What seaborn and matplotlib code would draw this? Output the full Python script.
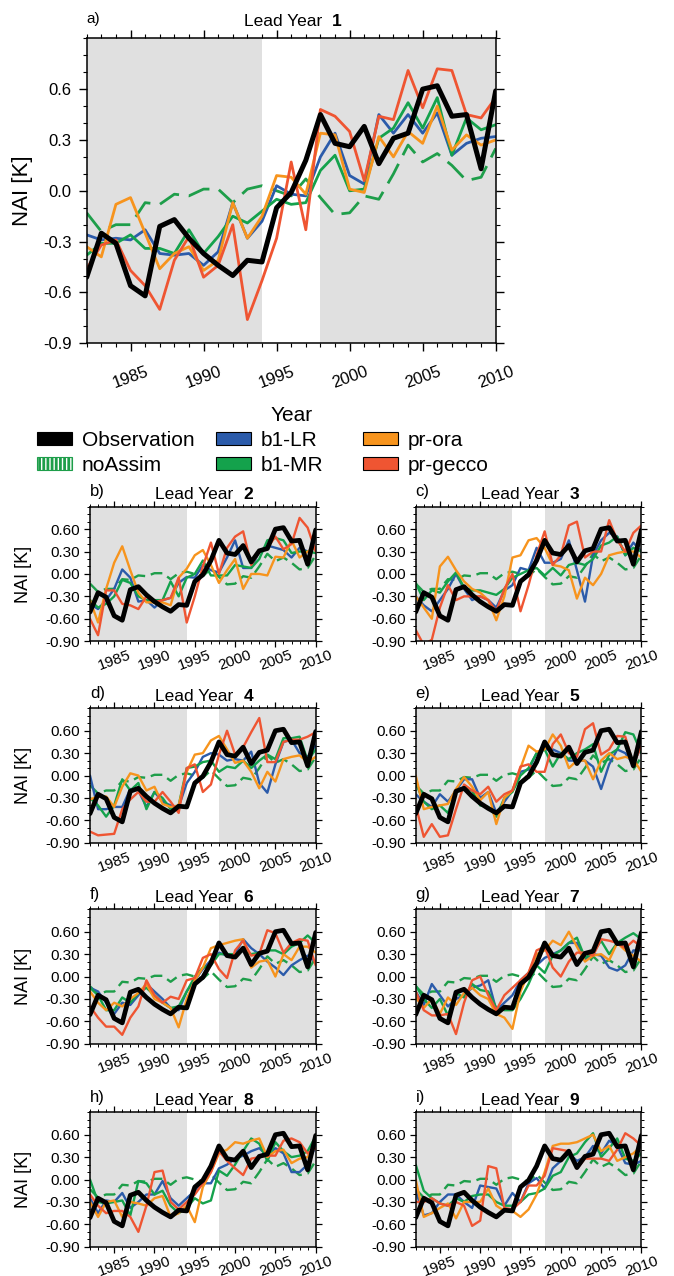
import matplotlib
matplotlib.use("Agg")
import matplotlib.pyplot as plt
import seaborn as sns
from matplotlib.patches import Patch
from matplotlib.ticker import FixedLocator, MultipleLocator

# ---------------- data ----------------
years = list(range(1982, 2011))
x_tick_years = [1985, 1990, 1995, 2000, 2005, 2010]
y_ticks = [-0.9, -0.6, -0.3, 0.0, 0.3, 0.6]
shade_periods = [(1982, 1994), (1998, 2010)]
leads = [1, 2, 3, 4, 5, 6, 7, 8, 9]
panel_letters = ["a)", "b)", "c)", "d)", "e)", "f)", "g)", "h)", "i)"]

observation = [-0.51, -0.25, -0.31, -0.56, -0.62, -0.21, -0.17, -0.28, -0.37, -0.44,
               -0.50, -0.41, -0.42, -0.10, -0.01, 0.18, 0.45, 0.28, 0.26, 0.38,
               0.16, 0.31, 0.34, 0.60, 0.62, 0.44, 0.45, 0.13, 0.59]
noassim = [-0.13, -0.24, -0.20, -0.20, -0.07, -0.08, -0.02, -0.03, 0.01, 0.01,
           -0.07, 0.01, 0.03, 0.00, -0.03, 0.07, -0.04, -0.14, -0.13, -0.03,
           -0.05, 0.10, 0.27, 0.17, 0.22, 0.15, 0.06, 0.08, 0.25]

b1_lr = {
    1: [-0.26, -0.29, -0.28, -0.29, -0.23, -0.37, -0.38, -0.37, -0.44, -0.36, -0.07, -0.28, -0.18, 0.03, -0.02, -0.03, 0.20, 0.34, 0.09, 0.04, 0.45, 0.34, 0.45, 0.34, 0.46, 0.21, 0.28, 0.31, 0.32],
    2: [-0.40, -0.47, -0.35, -0.20, 0.06, -0.05, -0.37, -0.35, -0.45, -0.35, -0.32, -0.12, -0.04, -0.05, 0.12, 0.05, 0.02, 0.22, 0.45, 0.08, 0.08, 0.30, 0.38, 0.35, 0.32, 0.22, 0.35, 0.30, 0.35],
    3: [-0.30, -0.42, -0.50, -0.35, -0.20, 0.00, -0.20, -0.35, -0.30, -0.35, -0.45, -0.22, -0.15, 0.08, 0.05, 0.35, 0.15, 0.15, 0.20, 0.45, 0.05, -0.37, 0.25, 0.45, 0.55, 0.50, 0.25, 0.42, 0.30],
    4: [0.00, -0.45, -0.45, -0.42, -0.42, -0.18, -0.20, -0.42, -0.22, -0.35, -0.40, -0.42, -0.10, 0.05, 0.25, 0.30, 0.28, 0.20, 0.22, 0.20, 0.32, -0.10, -0.23, 0.15, 0.45, 0.48, 0.30, 0.25, 0.40],
    5: [-0.25, -0.35, -0.42, -0.25, -0.35, -0.20, -0.05, -0.05, -0.30, -0.22, -0.50, -0.35, -0.20, 0.05, 0.08, 0.30, 0.35, 0.35, 0.30, 0.20, 0.20, 0.20, 0.12, -0.18, 0.15, 0.35, 0.30, 0.15, 0.40],
    6: [-0.15, -0.20, -0.35, -0.50, -0.35, -0.38, -0.25, -0.10, -0.20, -0.30, -0.42, -0.45, -0.20, -0.05, 0.10, 0.22, 0.32, 0.28, 0.30, 0.50, 0.38, 0.30, 0.20, 0.12, 0.02, 0.15, 0.22, 0.28, 0.20],
    7: [-0.20, -0.38, -0.10, -0.25, -0.40, -0.30, -0.25, -0.15, -0.12, -0.05, -0.45, -0.35, -0.25, -0.05, 0.05, 0.15, 0.25, 0.30, 0.35, 0.45, 0.45, 0.22, 0.30, 0.28, 0.12, 0.08, 0.15, 0.35, 0.35],
    8: [-0.25, -0.45, -0.28, -0.30, -0.18, -0.38, -0.30, -0.20, -0.20, -0.02, -0.25, -0.35, -0.25, -0.15, -0.05, -0.05, 0.15, 0.20, 0.28, 0.32, 0.38, 0.42, 0.32, 0.42, 0.35, 0.10, 0.10, 0.20, 0.45],
    9: [-0.15, -0.48, -0.45, -0.30, -0.20, -0.20, -0.30, -0.38, -0.08, -0.10, -0.12, -0.35, -0.18, -0.30, -0.05, 0.02, -0.12, 0.15, 0.25, 0.35, 0.25, 0.30, 0.45, 0.35, 0.52, 0.45, 0.22, 0.20, 0.25],
}
b1_mr = {
    1: [-0.38, -0.31, -0.31, -0.26, -0.34, -0.34, -0.37, -0.23, -0.37, -0.27, -0.15, -0.19, -0.12, -0.05, -0.08, -0.07, 0.12, 0.21, 0.00, 0.01, 0.31, 0.37, 0.52, 0.37, 0.55, 0.21, 0.43, 0.36, 0.39],
    2: [-0.35, -0.45, -0.40, -0.30, -0.08, -0.12, -0.30, -0.35, -0.35, -0.35, -0.10, -0.30, -0.05, 0.00, 0.18, -0.02, -0.02, -0.02, 0.12, 0.10, 0.08, 0.20, 0.45, 0.48, 0.45, 0.28, 0.30, 0.30, 0.28],
    3: [-0.12, -0.35, -0.22, -0.25, -0.10, 0.02, -0.18, -0.22, -0.22, -0.25, -0.28, -0.20, -0.05, 0.00, 0.05, 0.08, -0.02, 0.08, -0.02, 0.12, 0.15, 0.12, 0.20, 0.38, 0.42, 0.50, 0.25, 0.35, 0.30],
    4: [-0.30, -0.40, -0.55, -0.40, -0.05, -0.20, -0.10, -0.45, -0.22, -0.30, -0.45, -0.40, 0.10, 0.12, 0.18, 0.20, 0.05, 0.12, 0.10, 0.20, 0.10, 0.20, 0.28, 0.22, 0.50, 0.50, 0.52, 0.20, 0.35],
    5: [-0.10, -0.35, -0.45, -0.40, -0.50, -0.22, -0.15, -0.20, -0.40, -0.42, -0.55, -0.30, -0.22, 0.00, 0.10, 0.30, 0.35, 0.12, 0.30, 0.22, 0.30, 0.35, 0.42, 0.05, 0.28, 0.35, 0.58, 0.55, 0.30],
    6: [-0.15, -0.25, -0.45, -0.45, -0.28, -0.35, -0.22, -0.15, -0.25, -0.35, -0.42, -0.40, -0.20, 0.00, 0.12, 0.15, 0.30, 0.30, 0.30, 0.35, 0.30, 0.32, 0.35, 0.35, 0.30, 0.40, 0.45, 0.55, 0.45],
    7: [-0.12, -0.30, -0.42, -0.30, -0.52, -0.22, -0.28, -0.10, -0.18, -0.20, -0.42, -0.45, -0.45, -0.30, -0.10, 0.15, 0.05, 0.28, 0.35, 0.45, 0.52, 0.25, 0.32, 0.48, 0.30, 0.45, 0.52, 0.58, 0.50],
    8: [0.00, -0.30, -0.32, -0.30, -0.28, -0.48, -0.02, -0.05, -0.20, -0.15, -0.35, -0.45, -0.38, -0.25, -0.32, -0.28, 0.12, 0.05, 0.20, 0.38, 0.55, 0.48, 0.25, 0.50, 0.38, 0.30, 0.32, 0.38, 0.58],
    9: [0.20, -0.15, -0.25, -0.32, -0.35, -0.25, -0.30, -0.22, -0.20, -0.20, -0.30, -0.35, -0.35, -0.30, -0.20, -0.18, -0.12, 0.05, 0.10, 0.30, 0.35, 0.50, 0.62, 0.30, 0.42, 0.55, 0.28, 0.25, 0.35],
}
pr_ora = {
    1: [-0.33, -0.39, -0.08, -0.04, -0.25, -0.46, -0.37, -0.33, -0.47, -0.41, -0.07, -0.28, -0.15, 0.09, 0.08, -0.02, 0.34, 0.33, 0.01, -0.01, 0.32, 0.20, 0.35, 0.28, 0.50, 0.24, 0.33, 0.27, 0.30],
    2: [-0.35, -0.65, -0.20, 0.15, 0.37, 0.05, -0.25, -0.38, -0.38, -0.38, -0.42, -0.05, 0.07, 0.25, 0.32, 0.12, -0.12, 0.05, 0.20, -0.20, 0.00, 0.00, -0.02, 0.23, 0.22, 0.45, 0.22, 0.30, 0.35],
    3: [-0.30, -0.45, -0.60, 0.10, 0.23, 0.05, -0.10, -0.20, -0.25, -0.35, -0.62, -0.30, 0.22, 0.25, 0.45, 0.48, 0.35, 0.12, 0.10, 0.05, -0.33, -0.05, -0.15, 0.00, 0.25, 0.28, 0.30, 0.30, 0.22],
    4: [-0.32, -0.28, -0.28, -0.42, -0.15, 0.03, 0.00, -0.20, -0.15, -0.38, -0.42, -0.40, 0.05, 0.28, 0.30, 0.47, 0.53, 0.35, 0.17, 0.20, 0.05, -0.17, 0.05, -0.08, 0.22, 0.25, 0.27, 0.18, 0.25],
    5: [0.00, -0.45, -0.42, -0.40, -0.38, -0.18, -0.02, -0.15, -0.33, -0.22, -0.65, -0.30, -0.20, 0.10, 0.40, 0.32, 0.35, 0.55, 0.40, 0.10, 0.20, 0.20, -0.05, 0.20, 0.30, 0.22, 0.25, 0.22, 0.05],
    6: [-0.20, -0.35, -0.45, -0.35, -0.40, -0.30, -0.22, -0.10, -0.30, -0.35, -0.42, -0.68, -0.30, -0.05, 0.12, 0.38, 0.42, 0.45, 0.48, 0.50, 0.12, 0.20, 0.22, 0.00, 0.30, 0.22, 0.40, 0.40, 0.32],
    7: [-0.28, -0.42, -0.30, -0.50, -0.28, -0.38, -0.22, -0.15, -0.25, -0.30, -0.50, -0.55, -0.70, -0.20, 0.05, 0.30, 0.35, 0.48, 0.42, 0.60, 0.40, 0.20, 0.28, 0.30, 0.22, 0.45, 0.35, 0.28, 0.20],
    8: [-0.30, -0.50, -0.30, -0.28, -0.50, -0.30, -0.32, -0.35, -0.25, -0.22, -0.50, -0.45, -0.35, -0.57, -0.10, 0.10, 0.35, 0.40, 0.50, 0.48, 0.52, 0.55, 0.30, 0.38, 0.40, 0.22, 0.28, 0.30, 0.52],
    9: [0.00, -0.50, -0.45, -0.38, -0.32, -0.52, -0.30, -0.30, -0.30, -0.12, -0.35, -0.42, -0.42, -0.50, -0.40, -0.20, 0.10, 0.45, 0.48, 0.48, 0.50, 0.55, 0.60, 0.38, 0.45, 0.25, 0.30, 0.35, 0.45],
}
pr_gecco = {
    1: [-0.46, -0.32, -0.29, -0.47, -0.56, -0.70, -0.41, -0.27, -0.51, -0.44, -0.20, -0.76, -0.53, -0.28, 0.17, -0.23, 0.48, 0.44, 0.35, 0.06, 0.44, 0.42, 0.71, 0.49, 0.72, 0.71, 0.45, 0.43, 0.55],
    2: [-0.60, -0.82, -0.22, -0.22, -0.40, -0.42, -0.47, -0.30, -0.38, -0.35, -0.32, -0.05, -0.65, -0.30, 0.10, 0.42, 0.00, 0.35, 0.50, 0.57, 0.12, 0.30, 0.35, 0.50, 0.33, 0.40, 0.75, 0.62, 0.30],
    3: [-0.75, -0.95, -0.88, -0.45, -0.15, -0.35, -0.30, -0.30, -0.30, -0.35, -0.50, -0.20, 0.00, -0.50, -0.15, 0.25, 0.57, 0.12, 0.25, 0.65, 0.70, 0.22, 0.30, 0.30, 0.72, 0.45, 0.30, 0.55, 0.65],
    4: [-0.75, -0.80, -0.79, -0.78, -0.45, -0.32, -0.22, -0.35, -0.35, -0.22, -0.35, -0.50, 0.10, 0.15, -0.22, -0.12, 0.28, 0.60, 0.28, 0.38, 0.58, 0.77, 0.18, 0.18, 0.45, 0.48, 0.48, 0.52, 0.58],
    5: [-0.40, -0.82, -0.65, -0.82, -0.80, -0.45, -0.12, -0.20, -0.25, -0.15, -0.35, -0.25, -0.20, 0.12, 0.15, 0.05, 0.05, 0.42, 0.55, 0.30, 0.25, 0.62, 0.70, 0.28, 0.35, 0.53, 0.52, 0.15, 0.40],
    6: [-0.40, -0.55, -0.67, -0.67, -0.78, -0.55, -0.40, -0.05, -0.25, -0.35, -0.27, -0.30, -0.05, -0.02, 0.25, 0.30, 0.10, -0.02, 0.35, 0.48, 0.28, 0.30, 0.62, 0.58, 0.32, 0.45, 0.50, 0.48, 0.15],
    7: [-0.20, -0.45, -0.52, -0.52, -0.50, -0.77, -0.35, -0.05, 0.00, -0.25, -0.45, -0.25, -0.15, -0.05, 0.05, 0.35, 0.40, 0.12, 0.00, 0.20, 0.32, 0.32, 0.28, 0.50, 0.48, 0.45, 0.38, 0.48, 0.40],
    8: [-0.20, -0.35, -0.45, -0.42, -0.42, -0.50, -0.70, -0.35, 0.10, 0.12, -0.30, -0.40, -0.30, -0.20, -0.05, 0.10, 0.38, 0.25, 0.15, 0.06, 0.28, 0.30, 0.32, 0.32, 0.52, 0.55, 0.50, 0.35, 0.42],
    9: [-0.30, -0.30, -0.25, -0.32, -0.35, -0.30, -0.35, -0.62, -0.55, 0.18, 0.15, -0.38, -0.40, -0.30, -0.08, -0.08, 0.05, 0.42, 0.40, 0.38, 0.15, 0.28, 0.28, 0.28, 0.25, 0.40, 0.62, 0.55, 0.45],
}

# ---------------- style ----------------
sns.set_style("ticks")
plt.rcParams["font.family"] = ["Liberation Sans", "DejaVu Sans"]
plt.rcParams["axes.unicode_minus"] = False
plt.rcParams["hatch.linewidth"] = 2.0
for key in ["text.color", "axes.labelcolor", "xtick.color", "ytick.color", "axes.edgecolor"]:
    plt.rcParams[key] = "black"

C_OBS = "black"
C_NOA = "#1E9E4A"
C_LR = "#2B5BAA"
C_MR = "#14A24C"
C_ORA = "#F7941D"
C_GEC = "#EF5532"
C_SHADE = "#E0E0E0"

W, H = 674, 1276
fig = plt.figure(figsize=(W / 100, H / 100), dpi=100)
fig.patch.set_facecolor("white")


def add_ax(left, top, width, height):
    return fig.add_axes([left / W, 1 - (top + height) / H, width / W, height / H])


def draw_panel(ax, lead, letter, big):
    for a, b in shade_periods:
        ax.axvspan(a, b, color=C_SHADE, lw=0, zorder=0)
    lw_c = 2.0 if big else 1.7
    lw_o = 3.6 if big else 3.4
    dash = (8, 3.5) if big else (5, 2.5)
    sns.lineplot(x=years, y=noassim, ax=ax, color=C_NOA, lw=lw_c,
                 linestyle=(0, dash), estimator=None, sort=False, zorder=2)
    for series, col in [(b1_lr, C_LR), (b1_mr, C_MR), (pr_ora, C_ORA), (pr_gecco, C_GEC)]:
        sns.lineplot(x=years, y=series[lead], ax=ax, color=col, lw=lw_c,
                     estimator=None, sort=False, zorder=3)
    sns.lineplot(x=years, y=observation, ax=ax, color=C_OBS, lw=lw_o,
                 estimator=None, sort=False, zorder=4)

    ax.set_xlim(1982, 2010)
    ax.set_ylim(-0.9, 0.9)
    ax.set_xlabel("")
    ax.set_ylabel("")
    ax.xaxis.set_major_locator(FixedLocator(x_tick_years))
    ax.xaxis.set_minor_locator(MultipleLocator(1))
    ax.yaxis.set_major_locator(FixedLocator(y_ticks))
    ax.yaxis.set_minor_locator(MultipleLocator(0.1))
    ax.set_xticklabels([str(y) for y in x_tick_years], rotation=20, ha="center")
    fmt = "%.1f" if big else "%.2f"
    ax.set_yticklabels([fmt % v for v in y_ticks])
    for sp in ax.spines.values():
        sp.set_visible(True)
        sp.set_linewidth(1.1)
        sp.set_color("black")
        sp.set_zorder(5)
    if big:
        ax.tick_params(which="major", length=6, width=1.0, direction="out",
                       top=True, right=True, labelsize=12, pad=5)
        ax.tick_params(axis="x", which="major", pad=9)
        ax.tick_params(which="minor", length=3, width=0.8, direction="out",
                       top=True, right=True)
        title_fs, letter_fs = 12.5, 11
        title_y, letter_y = 9, 11
        ax.text(-64 / 409, 0.5, "NAI [K]", rotation=90, ha="center", va="center",
                fontsize=16, transform=ax.transAxes)
        ax.text(0.5, -72 / 305, "Year", ha="center", va="center", fontsize=15,
                transform=ax.transAxes)
    else:
        ax.tick_params(which="major", length=4, width=0.9, direction="out",
                       top=True, right=True, labelsize=11, pad=3)
        ax.tick_params(axis="x", which="major", pad=1)
        ax.tick_params(which="minor", length=2, width=0.7, direction="out",
                       top=True, right=True)
        title_fs, letter_fs = 12.5, 12
        title_y, letter_y = 5.5, 7.5
        if letter in ("b)", "d)", "f)", "h)"):
            ax.text(-66 / 225.7, 0.5, "NAI [K]", rotation=90, ha="center", va="center",
                    fontsize=13, transform=ax.transAxes)
    ax.annotate("Lead Year", xy=(0.5, 1.0), xycoords="axes fraction",
                xytext=(22, title_y), textcoords="offset points",
                ha="right", va="baseline", fontsize=title_fs)
    ax.annotate(str(lead), xy=(0.5, 1.0), xycoords="axes fraction",
                xytext=(29.5, title_y), textcoords="offset points",
                ha="left", va="baseline", fontsize=title_fs, fontweight="bold")
    ax.annotate(letter, xy=(0.0, 1.0), xycoords="axes fraction",
                xytext=(0, letter_y), textcoords="offset points",
                ha="left", va="baseline", fontsize=letter_fs)


ax_top = add_ax(86.7, 38.3, 409, 305)
draw_panel(ax_top, leads[0], panel_letters[0], True)

lefts = [90, 415.7]
tops = [506.7, 708.3, 909.3, 1112.3]
k = 1
for r in range(4):
    for c in range(2):
        ax = add_ax(lefts[c], tops[r], 225.7, 134.5)
        draw_panel(ax, leads[k], panel_letters[k], False)
        k += 1

# ---------------- legend ----------------
legend_cols = [
    (37, [("Observation", Patch(facecolor=C_OBS, edgecolor="black", lw=0.8)),
          ("noAssim", Patch(facecolor="white", edgecolor=C_NOA, hatch="||||", lw=0.8))]),
    (216, [("b1-LR", Patch(facecolor=C_LR, edgecolor="black", lw=0.8)),
           ("b1-MR", Patch(facecolor=C_MR, edgecolor="black", lw=0.8))]),
    (363, [("pr-ora", Patch(facecolor=C_ORA, edgecolor="black", lw=0.8)),
           ("pr-gecco", Patch(facecolor=C_GEC, edgecolor="black", lw=0.8))]),
]
for xpx, items in legend_cols:
    leg = fig.legend([h for _, h in items], [t for t, _ in items],
                     loc="upper left", bbox_to_anchor=(xpx / W, 1 - 431 / H),
                     frameon=False, fontsize=15, borderpad=0, borderaxespad=0,
                     handlelength=1.7, handleheight=0.55, handletextpad=0.45,
                     labelspacing=0.28)

fig.savefig("out.png", dpi=100, facecolor="white")
